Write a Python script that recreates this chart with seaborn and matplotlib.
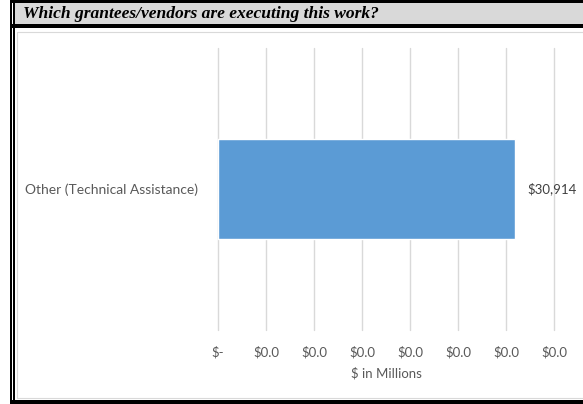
import matplotlib
matplotlib.use("Agg")
import matplotlib.pyplot as plt
from matplotlib.patches import Rectangle
from matplotlib.lines import Line2D
from matplotlib.ticker import FuncFormatter, MultipleLocator
import seaborn as sns
import pandas as pd

# Data
categories = ["Other (Technical Assistance)"]
amounts = [30914]
title_text = "Which grantees/vendors are executing this work?"
x_label = "$ in Millions"

sns.set_theme(style="white")
plt.rcParams["font.family"] = ["Lato", "DejaVu Sans"]

W, H = 583, 404
fig = plt.figure(figsize=(W / 100, H / 100), dpi=100)
fig.patch.set_facecolor("white")


def px_rect(x0, y0, x1, y1, color):
    """Filled band given in pixel coordinates measured from the top-left."""
    fig.add_artist(Rectangle((x0 / W, 1 - y1 / H), (x1 - x0) / W, (y1 - y0) / H,
                             transform=fig.transFigure, facecolor=color,
                             edgecolor="none", lw=0, antialiased=False))


def px_line(x0, y0, x1, y1, color, lw):
    fig.add_artist(Line2D([x0 / W, x1 / W], [1 - y0 / H, 1 - y1 / H],
                          transform=fig.transFigure, color=color, lw=lw))


# Frame: title band, black rules and double rule on the left
px_rect(10, 0, W + 2, 3, "black")
px_rect(15, 3, W + 2, 24, "#d9d9d9")
px_rect(10, 24, W + 2, 28, "black")
px_rect(10, 400, W + 2, H + 2, "black")
px_rect(10, 0, 12, H + 2, "black")
px_rect(13, 0, 15, H + 2, "black")
# Light inner border of the chart area
px_line(16.5, 31.5, W + 2, 31.5, "#d9d9d9", 0.8)
px_line(16.5, 31.5, 16.5, 397.5, "#d9d9d9", 0.8)
px_line(16.5, 397.5, W + 2, 397.5, "#d9d9d9", 0.8)

fig.text(23 / W, 1 - 13.5 / H, title_text, family="Liberation Serif", style="italic",
         weight="bold", fontsize=12.6, va="center", ha="left", color="black")

ax = fig.add_axes([218 / W, 1 - 330 / H, (554 - 218) / W, (330 - 48) / H])
df = pd.DataFrame({"category": categories, "amount": amounts})
sns.barplot(data=df, x="amount", y="category", orient="h", color="#5b9bd5",
            width=0.355, saturation=1, ax=ax)

ax.set_xlim(0, 35000)
ax.set_ylim(0.5, -0.5)
ax.xaxis.set_major_locator(MultipleLocator(5000))
ax.xaxis.set_major_formatter(FuncFormatter(
    lambda v, _: "$-" if abs(v) < 1e-9 else f"${v / 1e6:.1f}"))
ax.grid(axis="x", color="#d9d9d9", lw=1)
for gl in ax.get_xgridlines():
    gl.set_clip_on(False)
ax.set_axisbelow(True)
for s in ax.spines.values():
    s.set_visible(False)

ax.tick_params(axis="x", length=0, pad=11.5, labelsize=9.5, labelcolor="#595959")
ax.tick_params(axis="y", length=0, pad=14.4, labelsize=10, labelcolor="#595959")
ax.set_ylabel("")
ax.set_xlabel(x_label, fontsize=9.5, color="#595959", labelpad=6)

for i, v in enumerate(amounts):
    ax.annotate(f"${v:,.0f}", xy=(v, i), xytext=(13, 0), textcoords="offset pixels",
                va="center", ha="left", fontsize=9.5, color="#404040")

fig.savefig("out.png", dpi=100)
